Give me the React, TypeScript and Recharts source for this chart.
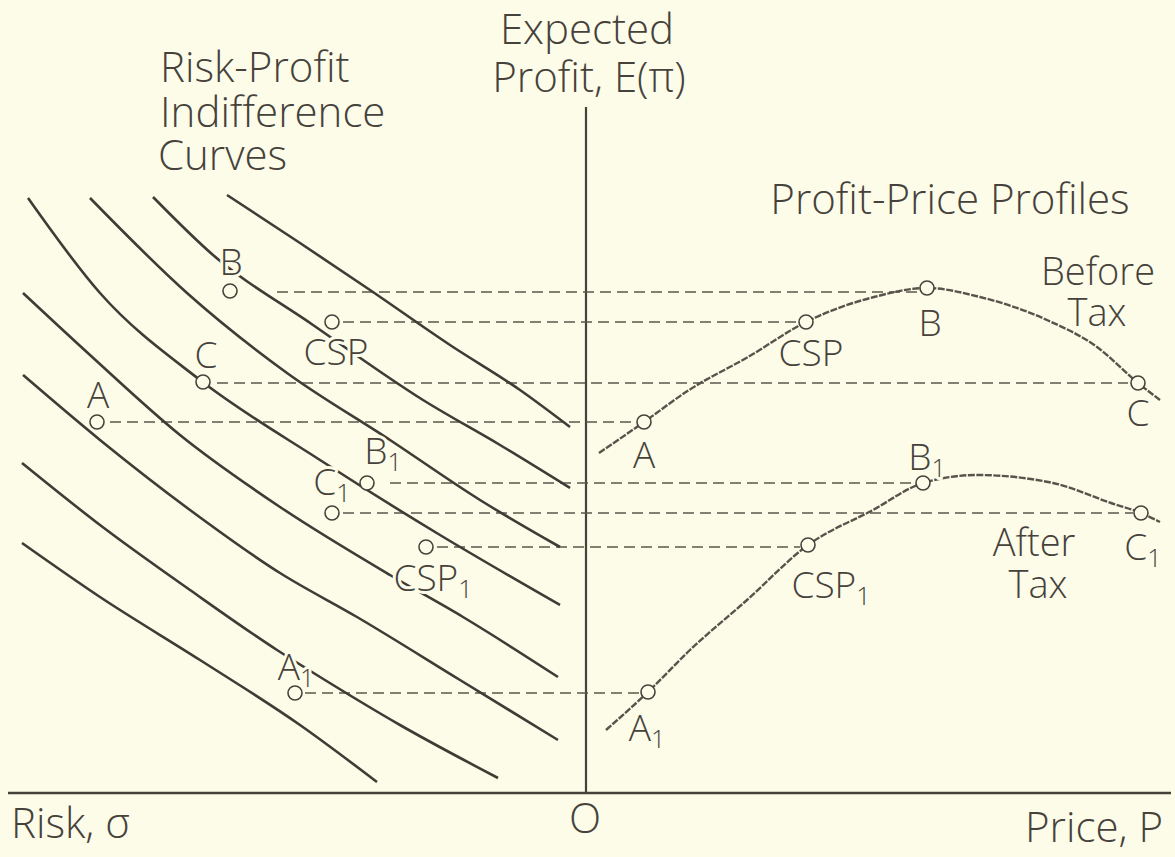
import { ComposedChart, Line, Scatter, XAxis, YAxis } from "recharts";

// Coordinates: x < 0 is risk (drawn leftwards from the origin), x > 0 is price.
// y is expected profit. Units are read straight off the picture.

const BG = "#fcfce9";
const INK = "#46423b";
const FONT = "'Open Sans', 'Liberation Sans', sans-serif";

type Pt = { x: number; y: number };
type Tag = { x: number; y: number; text: string; sub?: string };

const xDomain = [-586, 589];
const yDomain = [-64, 793];

// axes
const profitAxis: Pt[] = [{ x: 0, y: 0 }, { x: 0, y: 686 }];
const baseAxis: Pt[] = [{ x: -578, y: 0 }, { x: 585, y: 0 }];

// risk-profit indifference curves, lowest first
const ic1: Pt[] = [{ x: -564, y: 250 }, { x: -486, y: 196 }, { x: -386, y: 133 }, { x: -286, y: 68 }, { x: -209, y: 11 }];
const ic2: Pt[] = [{ x: -564, y: 330 }, { x: -486, y: 268 }, { x: -396, y: 203 }, { x: -309, y: 143 }, { x: -274, y: 121 }, { x: -186, y: 68 }, { x: -88, y: 15 }];
const ic3: Pt[] = [{ x: -563, y: 418 }, { x: -486, y: 353 }, { x: -396, y: 283 }, { x: -306, y: 220 }, { x: -229, y: 176 }, { x: -126, y: 113 }, { x: -28, y: 53 }];
const ic4: Pt[] = [{ x: -563, y: 500 }, { x: -496, y: 438 }, { x: -406, y: 358 }, { x: -306, y: 286 }, { x: -196, y: 218 }, { x: -123, y: 176 }, { x: -28, y: 116 }];
const ic5: Pt[] = [{ x: -558, y: 595 }, { x: -486, y: 500 }, { x: -386, y: 413 }, { x: -266, y: 333 }, { x: -146, y: 258 }, { x: -26, y: 188 }];
const ic6: Pt[] = [{ x: -496, y: 595 }, { x: -399, y: 500 }, { x: -299, y: 420 }, { x: -196, y: 353 }, { x: -106, y: 293 }, { x: -26, y: 246 }];
const ic7: Pt[] = [{ x: -433, y: 596 }, { x: -373, y: 538 }, { x: -273, y: 468 }, { x: -163, y: 393 }, { x: -86, y: 348 }, { x: -16, y: 305 }];
const ic8: Pt[] = [{ x: -359, y: 598 }, { x: -286, y: 550 }, { x: -216, y: 503 }, { x: -136, y: 448 }, { x: -66, y: 403 }, { x: -16, y: 366 }];
const indifferenceCurves = [ic1, ic2, ic3, ic4, ic5, ic6, ic7, ic8];

// profit-price profiles
const beforeTax: Pt[] = [
  { x: 13, y: 340 }, { x: 58, y: 371 }, { x: 103, y: 403 }, { x: 162, y: 436 }, { x: 220, y: 471 }, { x: 288, y: 496 },
  { x: 341, y: 505 }, { x: 394, y: 496 }, { x: 461, y: 473 }, { x: 511, y: 446 }, { x: 552, y: 410 }, { x: 574, y: 393 },
];
const afterTax: Pt[] = [
  { x: 20, y: 63 }, { x: 62, y: 101 }, { x: 104, y: 143 }, { x: 161, y: 193 }, { x: 222, y: 248 }, { x: 287, y: 283 },
  { x: 337, y: 310 }, { x: 391, y: 318 }, { x: 467, y: 310 }, { x: 525, y: 290 }, { x: 555, y: 280 }, { x: 574, y: 271 },
];

// profit levels carried across from profile to indifference map
const guideLevels = [
  { name: "B", y: 501, from: -309, to: 332 },
  { name: "CSP", y: 471, from: -243, to: 212 },
  { name: "C", y: 410, from: -369, to: 542 },
  { name: "A", y: 371, from: -476, to: 50 },
  { name: "B1", y: 310, from: -196, to: 329 },
  { name: "C1", y: 280, from: -243, to: 547 },
  { name: "CSP1", y: 246, from: -149, to: 214 },
  { name: "A1", y: 100, from: -281, to: 54 },
];

const riskPoints: Pt[] = [
  { x: -356, y: 502 }, { x: -254, y: 471 }, { x: -383, y: 411 }, { x: -489, y: 371 },
  { x: -219, y: 310 }, { x: -254, y: 280 }, { x: -160, y: 246 }, { x: -291, y: 100 },
];
const pricePoints: Pt[] = [
  { x: 58, y: 371 }, { x: 220, y: 471 }, { x: 341, y: 505 }, { x: 552, y: 410 },
  { x: 62, y: 101 }, { x: 222, y: 248 }, { x: 337, y: 310 }, { x: 555, y: 280 },
];

const pointTags: Tag[] = [
  { x: -355, y: 531, text: "B" }, { x: -250, y: 441, text: "CSP" }, { x: -380, y: 438, text: "C" }, { x: -488, y: 398, text: "A" },
  { x: -203, y: 342, text: "B", sub: "1" }, { x: -254, y: 311, text: "C", sub: "1" }, { x: -153, y: 215, text: "CSP", sub: "1" },
  { x: -290, y: 126, text: "A", sub: "1" },
  { x: 58, y: 338, text: "A" }, { x: 225, y: 440, text: "CSP" }, { x: 344, y: 470, text: "B" }, { x: 552, y: 380, text: "C" },
  { x: 341, y: 336, text: "B", sub: "1" }, { x: 245, y: 208, text: "CSP", sub: "1" }, { x: 557, y: 246, text: "C", sub: "1" },
  { x: 61, y: 65, text: "A", sub: "1" },
];

const curveNotes: Tag[] = [
  { x: 512, y: 522, text: "Before" }, { x: 511, y: 481, text: "Tax" },
  { x: 448, y: 251, text: "After" }, { x: 452, y: 209, text: "Tax" },
];

const centeredHeadings: Tag[] = [
  { x: 1, y: 764, text: "Expected" },
  { x: 3, y: 716, text: "Profit, E(π)" },
  { x: 364, y: 594, text: "Profit-Price Profiles" },
  { x: -1, y: -25, text: "O" },
  { x: 508, y: -34, text: "Price, P" },
];
const leftHeadings: Tag[] = [
  { x: -426, y: 726, text: "Risk-Profit" },
  { x: -426, y: 681, text: "Indifference" },
  { x: -428, y: 638, text: "Curves" },
  { x: -575, y: -30, text: "Risk, σ" },
];

function textShape(size: number, anchor: "start" | "middle") {
  return (props: any) => {
    const { cx, cy, payload } = props;
    return (
      <text
        x={cx}
        y={cy}
        dy="0.36em"
        textAnchor={anchor}
        fontFamily={FONT}
        fontWeight={300}
        fontSize={size}
        fill={INK}
        stroke={BG}
        strokeWidth={6}
        strokeLinejoin="round"
        paintOrder="stroke"
      >
        {payload.text}
        {payload.sub && (
          <tspan fontSize={size * 0.68} dy={7}>
            {payload.sub}
          </tspan>
        )}
      </text>
    );
  };
}

const ringShape = (props: any) => (
  <circle cx={props.cx} cy={props.cy} r={7} fill={BG} stroke={INK} strokeWidth={1.6} />
);

export default function App() {
  return (
    <div style={{ position: "absolute", left: 0, top: 0, width: 1175, height: 857, background: BG }}>
      <ComposedChart width={1175} height={857} margin={{ top: 0, right: 0, bottom: 0, left: 0 }}>
        <XAxis type="number" dataKey="x" domain={xDomain} hide height={0} allowDataOverflow />
        <YAxis type="number" dataKey="y" domain={yDomain} hide width={0} allowDataOverflow />

        <Line data={profitAxis} dataKey="y" type="linear" stroke={INK} strokeWidth={2.2} dot={false} activeDot={false} isAnimationActive={false} />
        <Line data={baseAxis} dataKey="y" type="linear" stroke={INK} strokeWidth={2.4} dot={false} activeDot={false} isAnimationActive={false} />

        {guideLevels.map((g) => (
          <Line
            key={g.name}
            data={[{ x: g.from, y: g.y }, { x: g.to, y: g.y }]}
            dataKey="y"
            type="linear"
            stroke="#5a554c"
            strokeWidth={1.6}
            strokeDasharray="11 6"
            dot={false}
            activeDot={false}
            isAnimationActive={false}
          />
        ))}

        {indifferenceCurves.map((c, i) => (
          <Line
            key={"ic" + i}
            data={c}
            dataKey="y"
            type="monotone"
            stroke="#3f3b35"
            strokeWidth={2.6}
            dot={false}
            activeDot={false}
            isAnimationActive={false}
          />
        ))}

        <Line data={beforeTax} dataKey="y" type="monotone" stroke="#59544b" strokeWidth={2.4} strokeDasharray="7 1.5" dot={false} activeDot={false} isAnimationActive={false} />
        <Line data={afterTax} dataKey="y" type="monotone" stroke="#59544b" strokeWidth={2.4} strokeDasharray="7 1.5" dot={false} activeDot={false} isAnimationActive={false} />

        <Scatter data={riskPoints} shape={ringShape} isAnimationActive={false} />
        <Scatter data={pricePoints} shape={ringShape} isAnimationActive={false} />

        <Scatter data={pointTags} shape={textShape(37, "middle")} isAnimationActive={false} />
        <Scatter data={curveNotes} shape={textShape(38, "middle")} isAnimationActive={false} />
        <Scatter data={centeredHeadings} shape={textShape(42, "middle")} isAnimationActive={false} />
        <Scatter data={leftHeadings} shape={textShape(42, "start")} isAnimationActive={false} />
      </ComposedChart>
    </div>
  );
}
